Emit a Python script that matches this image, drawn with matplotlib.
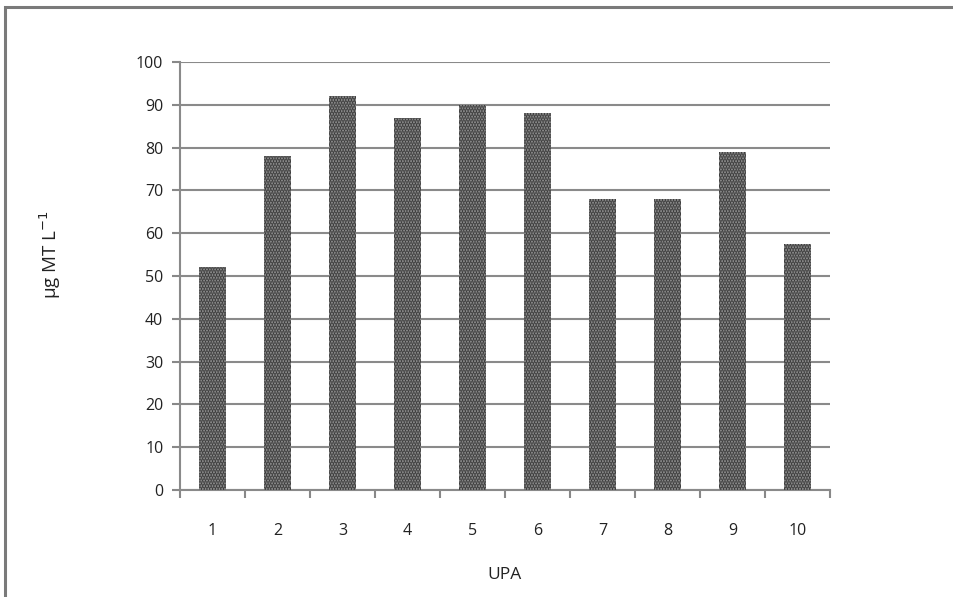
import numpy as np
import matplotlib.pyplot as plt
from matplotlib.patches import Rectangle

# Données
upa = ['1', '2', '3', '4', '5', '6', '7', '8', '9', '10']
valeurs = [52, 78, 92, 87, 90, 88, 68, 68, 79, 57.5]

plt.rcParams['font.family'] = ['Open Sans', 'DejaVu Sans']
plt.rcParams['hatch.linewidth'] = 1.8

fig = plt.figure(figsize=(9.54, 5.97), dpi=100)
ax = fig.add_axes([180 / 954, 1 - 490 / 597, 650 / 954, 428 / 597])

x = np.arange(1, len(upa) + 1)
ax.bar(x, valeurs, width=0.42, facecolor='#9a9a9a', hatch='......',
       edgecolor='#3c3c3c', linewidth=0, zorder=3)

ax.set_xlim(0.5, 10.5)
ax.set_ylim(0, 100)
ax.set_yticks(np.arange(0, 101, 10))
ax.set_xticks(x)
ax.set_xticklabels(upa)
ax.set_xticks(np.arange(0.5, 11, 1), minor=True)
ax.tick_params(axis='x', which='major', length=0, pad=24, labelsize=11.5, colors='#222222')
ax.tick_params(axis='x', which='minor', length=6, width=1.5, color='#888888')
ax.tick_params(axis='y', length=6, width=1.5, color='#888888', labelsize=11.5,
               labelcolor='#222222', pad=6)

ax.grid(axis='y', color='#8a8a8a', linewidth=1.5, zorder=0)
ax.set_axisbelow(True)
for s in ['top', 'right']:
    ax.spines[s].set_visible(False)
for s in ['left', 'bottom']:
    ax.spines[s].set_color('#8a8a8a')
    ax.spines[s].set_linewidth(1.5)

ax.set_xlabel('UPA', fontsize=12.5, labelpad=20, color='#222222')
ax.set_ylabel('μg MT L$^{-1}$', fontsize=13.5, color='#222222')
ax.yaxis.set_label_coords(-0.18, 0.55)

# cadre extérieur
fig.patches.append(Rectangle((5 / 954, -0.05), 1.2, (1 - 7 / 597) + 0.05,
                             transform=fig.transFigure, fill=False,
                             edgecolor='#7a7a7a', linewidth=2.2))

fig.savefig('out.png', dpi=100)
